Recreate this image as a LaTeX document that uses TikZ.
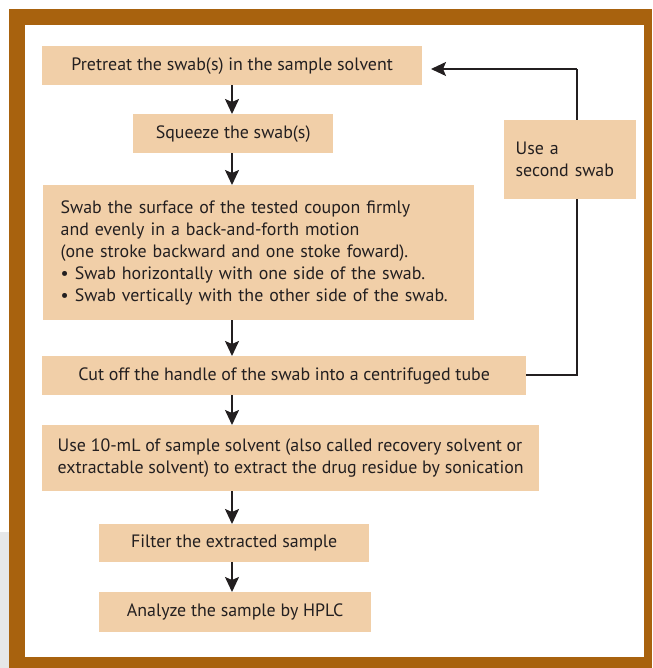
\documentclass[tikz,border=0pt]{standalone}
\usepackage{fontspec}
\setmainfont{PT Sans}
\usetikzlibrary{arrows.meta}
\definecolor{boxfill}{RGB}{241,207,168}
\definecolor{frame}{RGB}{168,98,14}
\definecolor{ink}{RGB}{35,31,32}
\definecolor{leftgray}{RGB}{230,231,232}
\tikzset{
  stepbox/.style={fill=boxfill, draw=none, rectangle, inner sep=0pt, text=ink,
    font=\fontsize{17.9}{22}\selectfont, anchor=north west},
  flow/.style={draw=ink, line width=1.8pt, -{Stealth[length=15pt,width=14pt,inset=3pt]}},
  back/.style={draw=ink, line width=1.6pt},
}
\begin{document}
\begin{tikzpicture}[x=1pt,y=-1pt]
\useasboundingbox (0,0) rectangle (652,668);
\fill[white] (0,0) rectangle (652,668);
\fill[leftgray] (0,532) -- (9,532) -- (9,668) -- (0,668) -- cycle;
\fill[frame] (9,9) rectangle (652,668);
\fill[white] (25,25) rectangle (644,657);

% boxes
\node[stepbox, minimum width=380pt, minimum height=39pt, align=center] (b1) at (42,46) {Pretreat the swab(s) in the sample solvent};
\node[stepbox, minimum width=200pt, minimum height=39pt, align=center] (b2) at (133,114) {Squeeze the swab(s)};
\node[stepbox, minimum width=431pt, minimum height=135pt, text width=396pt, inner xsep=17pt, align=left] (b3) at (43,185) {Swab the surface of the tested coupon firmly\\and evenly in a back-and-forth motion\\(one stroke backward and one stoke foward).\\\textbullet\ Swab horizontally with one side of the swab.\\\textbullet\ Swab vertically with the other side of the swab.};
\node[stepbox, minimum width=484pt, minimum height=39pt, align=center] (b4) at (42,356) {Cut off the handle of the swab into a centrifuged tube};
\node[stepbox, minimum width=497pt, minimum height=66pt, align=left] (b5) at (42,425) {Use 10-mL of sample solvent (also called recovery solvent or\\extractable solvent) to extract the drug residue by sonication};
\node[stepbox, minimum width=270pt, minimum height=38pt, align=center] (b6) at (99,524) {Filter the extracted sample};
\node[stepbox, minimum width=272pt, minimum height=40pt, align=center] (b7) at (99,592) {Analyze the sample by HPLC};
\node[stepbox, minimum width=132pt, minimum height=79pt, text width=109pt, inner xsep=11pt, align=left] (b8) at (504,120) {Use a\\second swab};

% vertical arrows
\coordinate (cx) at (232,0);
\draw[flow] (b1.south -| cx) -- (b2.north -| cx);
\draw[flow] (b2.south -| cx) -- (b3.north -| cx);
\draw[flow] (b3.south -| cx) -- (b4.north -| cx);
\draw[flow] (b4.south -| cx) -- (b5.north -| cx);
\draw[flow] (b5.south -| cx) -- (b6.north -| cx);
\draw[flow] (b6.south -| cx) -- (b7.north -| cx);

% feedback loop
\coordinate (r1) at (577,375);
\coordinate (r2) at (577,69);
\coordinate (r3) at (431,69);
\draw[back] (b4.east |- r1) -- (r1) -- (b8.south -| r1);
\draw[back] (b8.north -| r1) -- (r2);
\draw[flow, line width=1.6pt] (r2) -- (r3);
\end{tikzpicture}
\end{document}
